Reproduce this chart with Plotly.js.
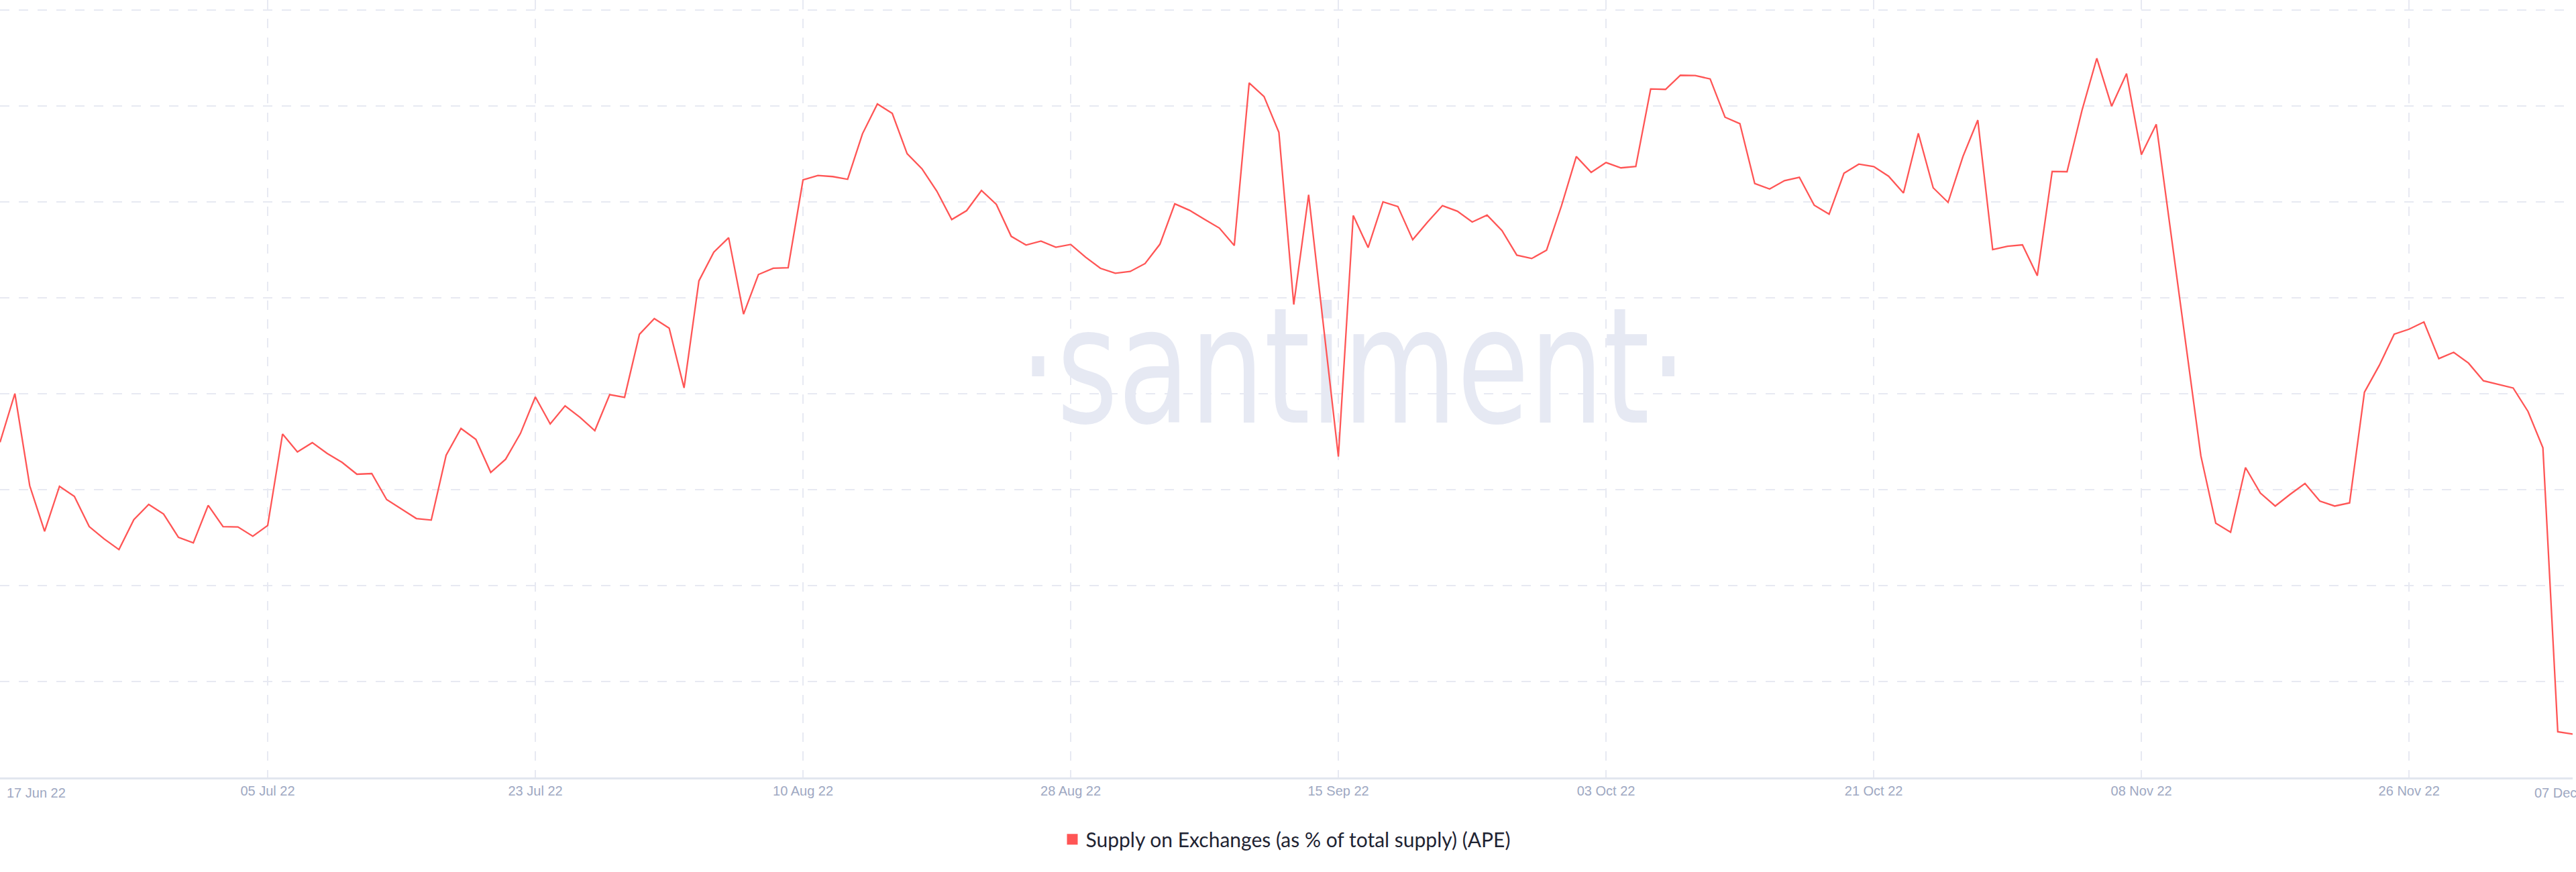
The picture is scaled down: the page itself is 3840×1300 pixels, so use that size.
<!DOCTYPE html>
<html>
<head>
<meta charset="utf-8">
<script src="https://cdn.plot.ly/plotly-3.0.1.min.js"></script>
<style>
  html, body { margin: 0; padding: 0; background: #ffffff; overflow: hidden; }
  #chart { width: 3840px; height: 1300px; }
</style>
</head>
<body>
<div id="chart"></div>
<script>
// ---- data ----
const startDate = '2022-06-17';
const seriesName = 'Supply on Exchanges (as % of total supply) (APE)';
const supplyValues = [
  3.494, 4.002, 3.040, 2.566, 3.035, 2.930, 2.615, 2.487, 2.375, 2.687,
  2.846, 2.746, 2.503, 2.445, 2.837, 2.615, 2.611, 2.515, 2.627, 3.580,
  3.394, 3.490, 3.378, 3.285, 3.161, 3.168, 2.897, 2.795, 2.699, 2.683,
  3.359, 3.638, 3.524, 3.180, 3.317, 3.587, 3.967, 3.685, 3.874, 3.755,
  3.615, 3.991, 3.963, 4.620, 4.783, 4.683, 4.061, 5.177, 5.476, 5.627,
  4.830, 5.243, 5.308, 5.313, 6.229, 6.275, 6.264, 6.236, 6.711, 7.021,
  6.923, 6.503, 6.345, 6.112, 5.816, 5.909, 6.119, 5.974, 5.641, 5.550,
  5.592, 5.527, 5.557, 5.424, 5.308, 5.256, 5.275, 5.357, 5.559, 5.980,
  5.912, 5.818, 5.727, 5.545, 7.240, 7.099, 6.725, 4.930, 6.075, 4.706,
  3.345, 5.858, 5.524, 6.001, 5.952, 5.606, 5.790, 5.961, 5.903, 5.790,
  5.863, 5.701, 5.445, 5.410, 5.497, 5.958, 6.473, 6.308, 6.410, 6.355,
  6.369, 7.177, 7.173, 7.320, 7.317, 7.282, 6.883, 6.816, 6.191, 6.135,
  6.222, 6.257, 5.965, 5.872, 6.299, 6.394, 6.369, 6.268, 6.093, 6.715,
  6.147, 5.995, 6.473, 6.853, 5.503, 5.538, 5.552, 5.231, 6.317, 6.315,
  6.951, 7.497, 6.998, 7.337, 6.493, 6.809, 5.658, 4.508, 3.352, 2.650,
  2.556, 3.231, 2.965, 2.829, 2.951, 3.065, 2.881, 2.829, 2.862, 4.017,
  4.296, 4.621, 4.673, 4.748, 4.366, 4.432, 4.319, 4.135, 4.098, 4.060,
  3.815, 3.437, 0.476, 0.452
];
const tickDates = ['2022-06-17', '2022-07-05', '2022-07-23', '2022-08-10', '2022-08-28',
  '2022-09-15', '2022-10-03', '2022-10-21', '2022-11-08', '2022-11-26', '2022-12-07'];
const tickLabels = ['17 Jun 22', '05 Jul 22', '23 Jul 22', '10 Aug 22', '28 Aug 22',
  '15 Sep 22', '03 Oct 22', '21 Oct 22', '08 Nov 22', '26 Nov 22', '07 Dec 22'];

// daily dates
function dayString(base, n) {
  const d = new Date(base + 'T00:00:00Z');
  d.setUTCDate(d.getUTCDate() + n);
  return d.toISOString().slice(0, 10);
}
const dates = supplyValues.map((_, i) => dayString(startDate, i));

// ---- styling ----
const LINE_COLOR = '#ff5555';
const GRID_COLOR = '#e7e9f2';
const TICK_COLOR = '#9ea8c2';
const TICK_FONT = { family: '"Liberation Sans", Arial, sans-serif', size: 20, color: TICK_COLOR };

const watermark = {
  x: ['2022-09-16'],
  y: [4.12],
  mode: 'text',
  type: 'scatter',
  text: ['·santiment·'],
  textposition: 'middle center',
  textfont: { family: '"DejaVu Sans", "Open Sans", sans-serif', size: 240, color: '#e6e9f3' },
  hoverinfo: 'skip',
  showlegend: false
};

const line = {
  x: dates,
  y: supplyValues,
  type: 'scatter',
  mode: 'lines',
  line: { color: LINE_COLOR, width: 2.3 },
  showlegend: false,
  name: seriesName
};

const legendItem = {
  x: [null],
  y: [null],
  type: 'scatter',
  mode: 'markers',
  marker: { symbol: 'square', size: 20, color: LINE_COLOR },
  name: seriesName,
  showlegend: true
};

const layout = {
  width: 3840,
  height: 1300,
  margin: { l: 0, r: 5, t: 0, b: 141 },
  paper_bgcolor: '#ffffff',
  plot_bgcolor: '#ffffff',
  xaxis: {
    type: 'date',
    range: ['2022-06-17', '2022-12-07'],
    tickmode: 'array',
    tickvals: tickDates.slice(0, -1),
    ticktext: [''].concat(tickLabels.slice(1, -1)),
    showgrid: true,
    gridcolor: GRID_COLOR,
    gridwidth: 1.5,
    griddash: '14px,14px',
    showline: true,
    linecolor: '#e2e6ef',
    linewidth: 2.5,
    ticks: '',
    ticklen: 0,
    tickfont: TICK_FONT,
    zeroline: false,
    fixedrange: true
  },
  yaxis: {
    range: [0, 8.105],
    tickmode: 'linear',
    tick0: 0,
    dtick: 1,
    showticklabels: false,
    showgrid: true,
    gridcolor: GRID_COLOR,
    gridwidth: 1.5,
    griddash: '14px,14px',
    zeroline: false,
    showline: false,
    ticks: '',
    fixedrange: true
  },
  showlegend: true,
  legend: {
    orientation: 'h',
    x: 0.5,
    xanchor: 'center',
    y: -0.0795,
    yanchor: 'middle',
    font: { family: 'Lato, "Open Sans", sans-serif', size: 30, color: '#1f2433' },
    bgcolor: 'rgba(0,0,0,0)',
    itemwidth: 30
  },
  annotations: [
    {
      x: tickDates[0], xref: 'x', y: 0, yref: 'paper',
      yanchor: 'top', xanchor: 'left', xshift: 8, yshift: -10,
      text: tickLabels[0], showarrow: false, font: TICK_FONT
    },
    {
      x: tickDates[tickDates.length - 1], xref: 'x', y: 0, yref: 'paper',
      yanchor: 'top', xanchor: 'center', xshift: -12, yshift: -10,
      text: tickLabels[tickLabels.length - 1], showarrow: false, font: TICK_FONT
    }
  ]
};

Plotly.newPlot('chart', [watermark, line, legendItem], layout, { displayModeBar: false, staticPlot: true })
  .then(function () {
    // narrow the watermark word to the reference's condensed width
    document.querySelectorAll('#chart .textpoint text').forEach(function (t) {
      t.setAttribute('textLength', '995');
      t.setAttribute('lengthAdjust', 'spacingAndGlyphs');
    });
  });
</script>
</body>
</html>
